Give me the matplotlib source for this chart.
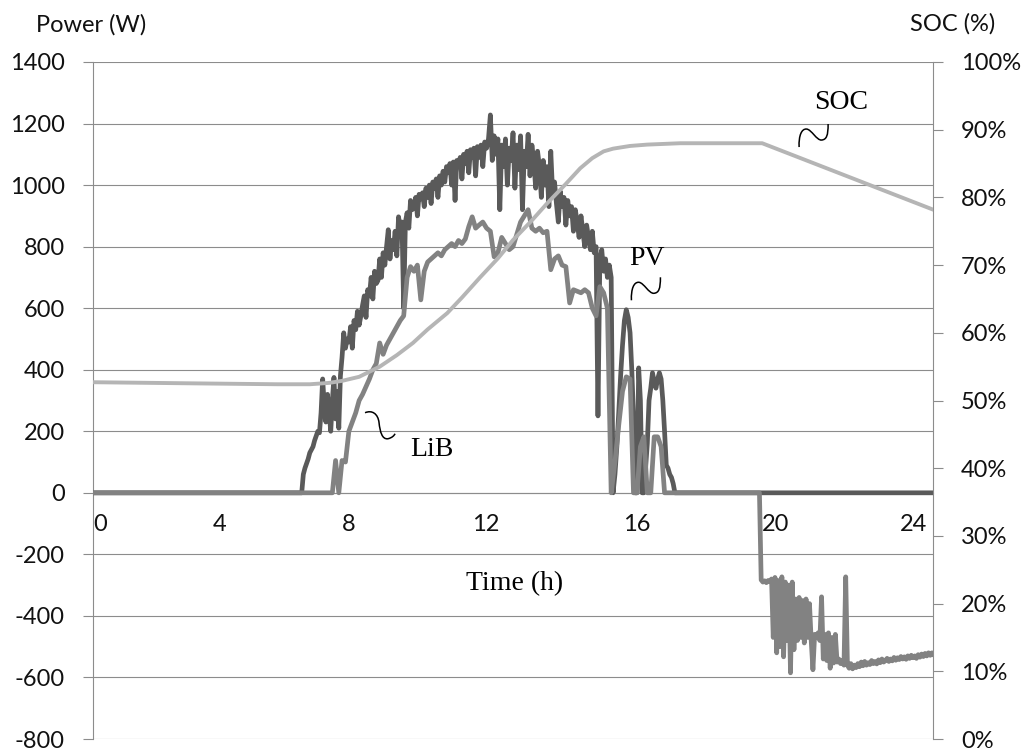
import numpy as np
import matplotlib
matplotlib.use("Agg")
import matplotlib.pyplot as plt
import matplotlib.transforms as mtransforms
from matplotlib.path import Path
from matplotlib.patches import PathPatch
from matplotlib.ticker import FixedLocator, FuncFormatter

# ---------------------------------------------------------------- data
# PV output (W), sampled every 0.05 h starting at 6.70 h
pv_start, pv_step = 6.70, 0.05
pv_w = [0, 0, 60, 80, 95, 110,
        130, 140, 150, 170, 185, 200, 195, 260, 370, 280,
        230, 320, 260, 200, 300, 375, 240, 330, 210, 380,
        440, 520, 470, 500, 490, 540, 470, 560, 530, 590,
        545, 575, 610, 640, 570, 660, 640, 700, 630, 720,
        680, 690, 760, 700, 780, 740, 800, 855, 760, 820,
        790, 850, 770, 897, 860, 880, 600, 880, 910, 860,
        950, 920, 930, 960, 900, 970, 955, 975, 930, 990,
        960, 1000, 940, 1010, 990, 1020, 960, 1030, 1000, 1045,
        1010, 1060, 1040, 1070, 1000, 1075, 950, 1080, 1060, 1090,
        1020, 1100, 1070, 1110, 1040, 1115, 1090, 1120, 1030, 1125,
        1090, 1130, 1060, 1140, 1120, 1150, 1228, 1080, 1160, 1100,
        1150, 920, 1130, 1060, 1150, 1000, 1120, 1080, 1170, 990,
        1130, 1050, 1160, 920, 1110, 1060, 1165, 1030, 1130, 1080,
        990, 1110, 1060, 960, 1080, 1000, 1060, 930, 1110, 970,
        1010, 940, 880, 980, 930, 960, 870, 950, 900, 930,
        850, 920, 880, 830, 900, 850, 800, 870, 830, 790,
        850, 780, 800, 250, 760, 790, 720, 760, 700, 740,
        700, 0, 60, 150, 260, 380, 480, 560, 595, 570,
        520, 400, 250, 0, 0, 406, 300, 0, 0, 80,
        160, 300, 340, 390, 360, 340, 370, 390, 370, 300,
        200, 90, 80, 60, 50, 30, 0, 0, 0]

# LiB power (W) during the day, every 0.1 h starting at 7.7 h
lib_start, lib_step = 7.7, 0.1
lib_w = [0, 105, 0, 105, 100, 200, 230, 260, 300, 320,
         345, 370, 400, 420, 487, 450, 480, 500, 520, 540,
         560, 575, 700, 735, 720, 740, 627, 720, 750, 760,
         770, 780, 770, 790, 800, 810, 800, 820, 810, 825,
         865, 897, 860, 870, 880, 860, 850, 767, 780, 830,
         810, 790, 800, 840, 880, 900, 920, 860, 850, 860,
         845, 850, 725, 760, 770, 740, 735, 617, 660, 655,
         650, 660, 650, 600, 575, 670, 650, 600, 0, 100,
         220, 330, 377, 370, 0, 0, 150, 182, 0, 0,
         182, 182, 150, 0]

# LiB power (W) in the evening (discharge), every 0.05 h starting at 19.70 h
night_start, night_step = 19.70, 0.05
night_w = [0, 0, -283, -290, -286, -292, -285, -288, -280,
           -470, -275, -520, -285, -500, -273, -533, -290, -480, -300,
           -585, -290, -510, -345, -480, -340, -470, -350, -488, -345,
           -470, -360, -480, -575, -460, -470, -455, -480, -338, -540,
           -460, -545, -455, -570, -470, -553, -460, -550, -540, -555,
           -545, -560, -273, -560, -570, -555, -572, -560, -568, -555,
           -565, -550, -562, -548, -560, -552, -558, -545, -555, -548,
           -556, -543, -552, -540, -550, -545, -538, -548, -540, -546,
           -535, -544, -536, -542, -532, -540, -533, -541, -530, -538,
           -528, -536, -530, -538, -526, -534, -524, -532, -522, -530,
           -520, -528, -520, -526]

# State of charge (%)
soc_h = [0.0, 2.0, 4.0, 6.0, 7.0, 7.6, 8.0, 8.5, 9.1, 9.6,
         10.07, 10.5, 11.07, 11.5, 12.03, 12.5, 12.9, 13.4, 13.8, 14.3,
         14.68, 15.0, 15.3, 15.55, 16.0, 16.5, 17.45, 19.83, 24.78]
soc_pct = [52.7, 52.6, 52.5, 52.4, 52.4, 52.6, 52.9, 53.5, 55.0, 56.7,
           58.5, 60.5, 62.9, 65.2, 68.2, 71.0, 73.7, 76.6, 79.1, 82.0,
           84.3, 85.8, 86.8, 87.2, 87.6, 87.8, 88.0, 88.0, 78.2]

hour_ticks = [0, 4, 8, 12, 16, 20, 24]
power_ticks = list(range(-800, 1401, 200))
soc_ticks = list(range(0, 101, 10))
END_H = 24.78

# ---------------------------------------------------------------- series
def grid(start, step, n):
    return list(np.round(start + step * np.arange(n), 3))

pv_t = [0.0] + grid(pv_start, pv_step, len(pv_w)) + [END_H]
pv_v = [0] + pv_w + [0]
lib_t = ([0.0] + grid(lib_start, lib_step, len(lib_w))
         + grid(night_start, night_step, len(night_w)))
lib_v = [0] + lib_w + night_w

# ---------------------------------------------------------------- style
plt.rcParams['axes.unicode_minus'] = False
SANS = ['Lato', 'DejaVu Sans']
SERIF = ['Liberation Serif', 'DejaVu Serif']
GRID = '#8c8c8c'
C_PV, C_LIB, C_SOC = '#5a5a5a', '#828282', '#b5b5b5'

W, H, DPI = 1026, 751, 100
fig = plt.figure(figsize=(W / DPI, H / DPI), dpi=DPI)
L, R, T, B = 93, 933, 62, 739
ax = fig.add_axes([L / W, 1 - B / H, (R - L) / W, (B - T) / H])

# time axis behaves like a category axis: label spacing is uneven
AX_H = [-10, 0, 4, 8, 12, 16, 20, 24, 34]
AX_P = [-207, 93, 213, 342, 479, 630, 768, 906, 1251]
fwd = lambda h: np.interp(h, AX_H, AX_P)
inv = lambda p: np.interp(p, AX_P, AX_H)
ax.set_xscale('function', functions=(fwd, inv))
ax.set_xlim(0, END_H)
ax.set_ylim(-800, 1400)

ax.plot(pv_t, pv_v, color=C_PV, lw=3.4, solid_joinstyle='round', zorder=3)
ax.plot(lib_t, lib_v, color=C_LIB, lw=3.4, solid_joinstyle='round', zorder=4)

ax.yaxis.set_major_locator(FixedLocator(power_ticks))
ax.xaxis.set_major_locator(FixedLocator(hour_ticks))
ax.xaxis.set_major_formatter(FuncFormatter(lambda v, p: f"{v:.0f}"))
ax.xaxis.set_minor_locator(FixedLocator([]))
ax.yaxis.grid(True, color=GRID, lw=0.8)
ax.set_axisbelow(True)

for s in ('top', 'right'):
    ax.spines[s].set_visible(False)
ax.spines['left'].set_color(GRID)
ax.spines['left'].set_linewidth(0.8)
ax.spines['bottom'].set_position(('data', 0))
ax.spines['bottom'].set_color(GRID)
ax.spines['bottom'].set_linewidth(0.8)
ax.spines['bottom'].set_zorder(1)

ax.tick_params(axis='y', direction='out', length=7.2, width=0.8, color=GRID,
               pad=13, labelsize=17, labelcolor='#111111')
ax.tick_params(axis='x', length=0, pad=15, labelsize=17, labelcolor='#111111')
for lab in ax.get_yticklabels() + ax.get_xticklabels():
    lab.set_family(SANS)
shift = mtransforms.ScaledTranslation(7 / DPI, 0, fig.dpi_scale_trans)
for lab in ax.get_xticklabels():
    lab.set_transform(lab.get_transform() + shift)

# secondary axis for SOC
ax2 = ax.twinx()
ax2.set_ylim(0, 100)
ax2.plot(soc_h, soc_pct, color=C_SOC, lw=2.8, solid_joinstyle='round', zorder=5)
ax2.yaxis.set_major_locator(FixedLocator(soc_ticks))
ax2.yaxis.set_major_formatter(FuncFormatter(lambda v, p: f"{v:.0f}%"))
for s in ('top', 'bottom', 'left'):
    ax2.spines[s].set_visible(False)
ax2.spines['right'].set_color(GRID)
ax2.spines['right'].set_linewidth(0.8)
ax2.tick_params(axis='y', direction='out', length=7.2, width=0.8, color=GRID,
                pad=13, labelsize=17, labelcolor='#111111')
for lab in ax2.get_yticklabels():
    lab.set_family(SANS)

# axis titles
fig.text(91 / W, 1 - 25 / H, 'Power (W)', ha='center', va='center',
         fontsize=17, family=SANS, color='#111111')
fig.text(953 / W, 1 - 24 / H, 'SOC (%)', ha='center', va='center',
         fontsize=17, family=SANS, color='#111111')
ax.text(12.93, -296, 'Time (h)', ha='center', va='center',
        fontsize=20, family=SERIF)

# series callouts: label text plus a small wavy leader
def squiggle(x, y, verts):
    codes = [Path.MOVETO] + [Path.CURVE4] * (len(verts) - 1)
    tr = (mtransforms.Affine2D().scale(1 / DPI) + fig.dpi_scale_trans
          + mtransforms.ScaledTranslation(x, y, ax.transData))
    ax.add_patch(PathPatch(Path(verts, codes), transform=tr, fill=False,
                           lw=1.1, edgecolor='black', zorder=6,
                           clip_on=False))

tilde = [(-14.5, -11.5), (-15, 0), (-12, 7), (-7, 6.5),
         (-2, 6), (3, -5), (8, -4.5),
         (13, -4), (14.5, 0), (14.5, 11.5)]
hook = [(-15, 13), (-8, 16), (-2, 12), (-1, 3),
        (0, -6), (2, -14), (8, -13),
        (12, -12), (14, -10), (15, -8)]

squiggle(21.32, 1161, tilde)
ax.text(22.12, 1267, 'SOC', ha='center', va='center', fontsize=20, family=SERIF)
squiggle(16.46, 663, tilde)
ax.text(16.49, 763, 'PV', ha='center', va='center', fontsize=20, family=SERIF)
squiggle(9.11, 218, hook)
ax.text(10.63, 140, 'LiB', ha='center', va='center', fontsize=20, family=SERIF)

fig.savefig('out.png', dpi=DPI)
